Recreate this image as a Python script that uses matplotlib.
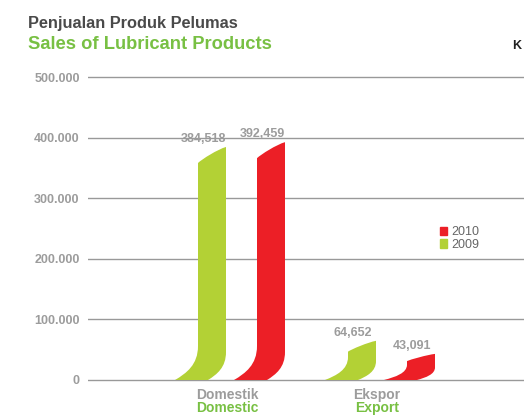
import matplotlib.pyplot as plt
from matplotlib.path import Path
from matplotlib.patches import PathPatch, Patch

plt.rcParams['font.family'] = ['Liberation Sans', 'DejaVu Sans']

# data
categories_id = ["Domestik", "Ekspor"]
categories_en = ["Domestic", "Export"]
years = ["2009", "2010"]
sales_2009 = [384518, 64652]
sales_2010 = [392459, 43091]
yticks = [0, 100000, 200000, 300000, 400000, 500000]

GREEN = "#b3d135"
RED = "#ec1f26"
TITLE_GREEN = "#78c043"
GRAY = "#9c9c9c"

W, H = 524, 416
fig = plt.figure(figsize=(W / 100, H / 100), dpi=100)

# axes placed so that 0 sits at y=380px and 500.000 at y=77px
ppu = (380 - 77) / 500000          # pixels per unit
ymin, ymax = -40000, 520000
ax_bottom = 380 + (-ymin) * ppu
ax_top = 77 - (ymax - 500000) * ppu
x_px0, x_px1 = 88, W
ax = fig.add_axes([x_px0 / W, (H - ax_bottom) / H, (x_px1 - x_px0) / W, (ax_bottom - ax_top) / H])
px_per_cat = 150.0
cat0_px = 227
ax.set_xlim((x_px0 - cat0_px) / px_per_cat, (x_px1 - cat0_px) / px_per_cat)
ax.set_ylim(ymin, ymax)
for s in ax.spines.values():
    s.set_visible(False)
ax.set_xticks([])
ax.set_yticks(yticks)
ax.set_yticklabels([f"{v:,}".replace(",", ".") if v else "0" for v in yticks],
                   color=GRAY, fontsize=9, fontweight="bold")
ax.tick_params(axis="y", length=0, pad=6)
for v in yticks:
    ax.axhline(v, color="#999999", lw=1, zorder=1)

xu = 1 / px_per_cat   # one pixel in x data units
yu = 1 / ppu          # one pixel in y data units


def swoosh(x_right, value, color):
    w = 28 * xu
    tail_l = 23 * xu
    tail_r = 18 * xu
    # curved foot and slanted top, squeezed for short bars
    f = min(1.0, (value * ppu) / 58)
    slant = 16 * yu * f
    hc_l = 34 * yu * f
    hc_r = 28 * yu * f
    xl = x_right - w
    top_l = value - slant
    verts = [
        (xl - tail_l, 0),
        (xl - 0.5 * tail_l, 0.2 * hc_l), (xl, 0.45 * hc_l), (xl, hc_l),
        (xl, top_l),
        (xl + 0.15 * w, top_l + 0.25 * slant), (x_right - 0.3 * w, value - 0.15 * slant), (x_right, value),
        (x_right, hc_r),
        (x_right, 0.45 * hc_r), (x_right - 0.5 * tail_r, 0.2 * hc_r), (x_right - tail_r, 0),
        (xl - tail_l, 0),
    ]
    codes = [Path.MOVETO,
             Path.CURVE4, Path.CURVE4, Path.CURVE4,
             Path.LINETO,
             Path.CURVE4, Path.CURVE4, Path.CURVE4,
             Path.LINETO,
             Path.CURVE4, Path.CURVE4, Path.CURVE4,
             Path.CLOSEPOLY]
    ax.add_patch(PathPatch(Path(verts, codes), facecolor=color, edgecolor="none", zorder=3))
    ax.text(x_right - 23 * xu, value + 8 * yu, f"{value:,}", ha="center", va="center",
            color=GRAY, fontsize=9, fontweight="bold", zorder=4)


for i in range(len(categories_id)):
    swoosh(i - 1 * xu, sales_2009[i], GREEN)
    swoosh(i + 58 * xu, sales_2010[i], RED)
    ax.text(i, -15 * yu, categories_id[i], ha="center", va="center", color=GRAY,
            fontsize=10, fontweight="bold", clip_on=False)
    ax.text(i, -28 * yu, categories_en[i], ha="center", va="center", color=TITLE_GREEN,
            fontsize=10, fontweight="bold", clip_on=False)

handles = [Patch(color=RED), Patch(color=GREEN)]
fig.legend(handles, [years[1], years[0]], loc="upper left",
           bbox_to_anchor=(434 / W, 1 - 220 / H), frameon=False, fontsize=9,
           handlelength=0.55, handleheight=0.65, handletextpad=0.3, labelspacing=0.05,
           borderpad=0, labelcolor="#666666")

fig.text(28 / W, 1 - 28 / H, "Penjualan Produk Pelumas", color="#4a4a4a",
         fontsize=11.8, fontweight="bold", va="baseline")
fig.text(28 / W, 1 - 49 / H, "Sales of Lubricant Products", color=TITLE_GREEN,
         fontsize=13.2, fontweight="bold", va="baseline")
fig.text(512 / W, 1 - 49 / H, "K", color="#222222", fontsize=9, fontweight="bold", va="baseline")

fig.savefig("out.png", dpi=100)
